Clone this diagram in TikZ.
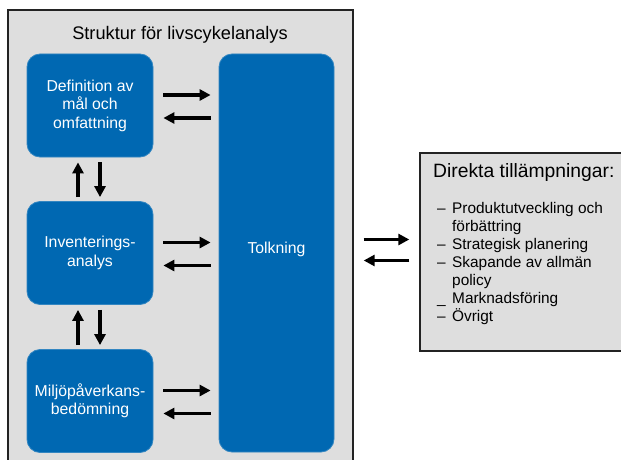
\documentclass[tikz,border=0pt]{standalone}
\usepackage{fontspec}
\setmainfont{Liberation Sans}
\usetikzlibrary{arrows.meta,calc}
\definecolor{lcablue}{RGB}{0,104,178}
\definecolor{lcagray}{RGB}{222,222,222}
\definecolor{lcaedge}{RGB}{35,35,35}
\tikzset{
  stage/.style={draw=lcablue!80!white, line width=0.8pt, fill=lcablue, rounded corners=13pt,
    text=white, align=center, font=\fontsize{15.8}{18.5}\selectfont,
    minimum width=126pt, minimum height=103pt, inner sep=0pt},
  frame/.style={draw=lcaedge, line width=1.4pt, fill=lcagray, inner sep=0pt},
  arr/.style={line width=3.6pt, -{Triangle[length=11pt,width=11pt]}},
}
\begin{document}
\begin{tikzpicture}[x=1pt,y=-1pt]
\useasboundingbox (0,0) rectangle (621,460);
\begin{scope}
\clip (0,0) rectangle (621,460);
\node[frame, minimum width=345pt, minimum height=470pt] (outer) at (180.5,245) {};
\node[frame, minimum width=212pt, minimum height=198pt] (apps) at (526,252) {};
\end{scope}
\node[font=\fontsize{18.2}{20}\selectfont] (title) at (180,35) {Struktur för livscykelanalys};
\node[stage] (b1) at (90,105.5) {Definition av\\mål och\\omfattning};
\node[stage] (b2) at (90,253) {Inventerings-\\analys};
\node[stage] (b3) at (90,401) {Miljöpåverkans-\\bedömning};
\node[stage, minimum width=115pt, minimum height=398pt] (tolk) at (276.5,253) {};
\node[text=white, font=\fontsize{15.8}{18.5}\selectfont] (tolktext) at (276.5,249) {Tolkning};
% horizontal arrows
\foreach \b in {b1,b2,b3}{
  \coordinate (\b r) at ($(\b.east)+(0,-10.5)$);
  \coordinate (\b l) at ($(\b.east)+(0,12.5)$);
  \draw[arr, shorten <=10pt, shorten >=8pt] (\b r) -- (\b r -| tolk.west);
  \draw[arr, shorten <=8pt, shorten >=10pt] (\b l -| tolk.west) -- (\b l);
}
% vertical arrows
\draw[arr] ([xshift=-12pt,yshift=4pt]b2.north) -- ([xshift=-12pt,yshift=-5pt]b1.south);
\draw[arr] ([xshift=10pt,yshift=-5pt]b1.south) -- ([xshift=10pt,yshift=4pt]b2.north);
\draw[arr] ([xshift=-12pt,yshift=4pt]b3.north) -- ([xshift=-12pt,yshift=-5pt]b2.south);
\draw[arr] ([xshift=10pt,yshift=-5pt]b2.south) -- ([xshift=10pt,yshift=4pt]b3.north);
% arrows to applications
\coordinate (or) at ($(outer.east)+(0,-5.5)$);
\coordinate (ol) at ($(outer.east)+(0,15.5)$);
\draw[arr, shorten <=10pt, shorten >=10pt] (or) -- (or -| apps.west);
\draw[arr, shorten <=10pt, shorten >=10pt] (ol -| apps.west) -- (ol);
% applications text
\node[anchor=north west, inner sep=0pt, font=\fontsize{19.3}{22}\selectfont] (appstitle) at (433,163) {Direkta tillämpningar:};
\node[anchor=north west, inner sep=0pt, align=left, font=\fontsize{15.4}{18}\selectfont] (appslist) at (437,202)
 {\makebox[15pt][l]{–}Produktutveckling och\\
  \makebox[15pt][l]{}förbättring\\
  \makebox[15pt][l]{–}Strategisk planering\\
  \makebox[15pt][l]{–}Skapande av allmän\\
  \makebox[15pt][l]{}policy\\
  \makebox[15pt][l]{\_}Marknadsföring\\
  \makebox[15pt][l]{–}Övrigt};
\end{tikzpicture}
\end{document}
